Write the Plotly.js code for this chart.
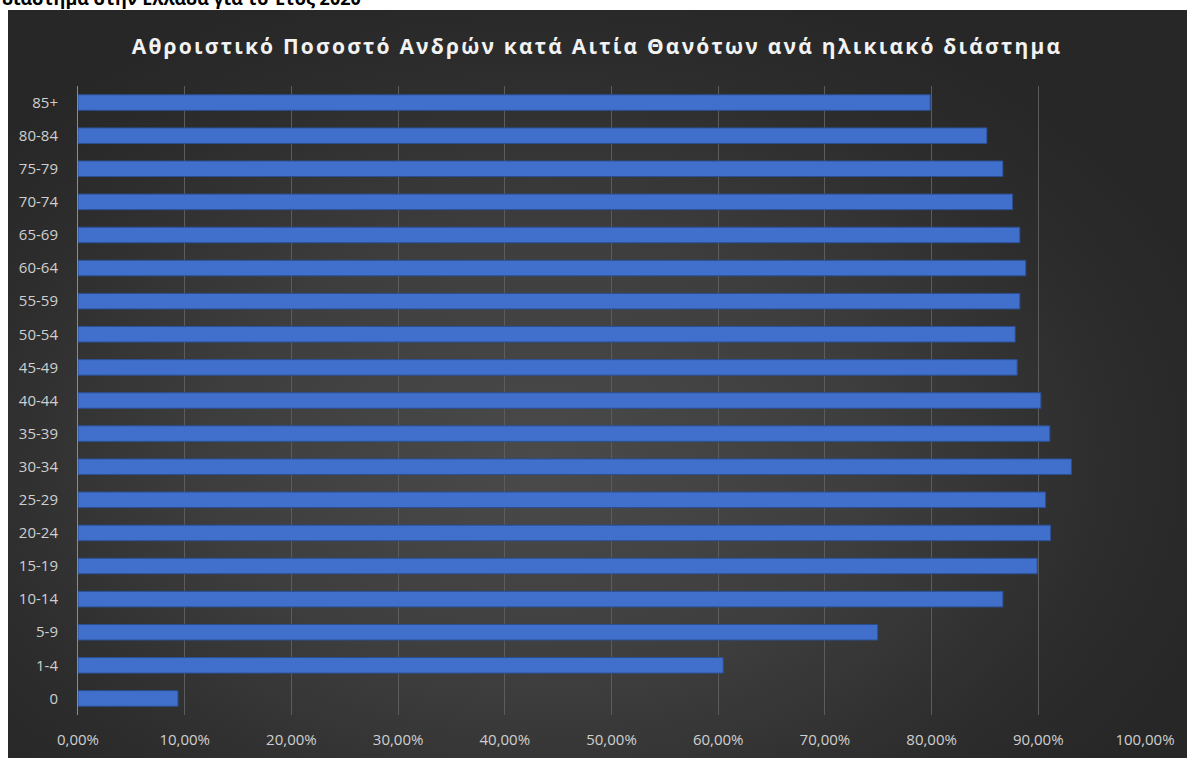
<!DOCTYPE html>
<html>
<head>
<meta charset="utf-8">
<script src="https://cdn.plot.ly/plotly-3.0.1.min.js"></script>
<style>
  html, body { margin: 0; padding: 0; background: #ffffff; overflow: hidden; }
  #bg {
    position: absolute; left: 8px; top: 10px; width: 1179px; height: 748px;
    background: radial-gradient(ellipse 60% 65% at 45% 60%, #4a4a4a 0%, #3e3e3e 45%, #2d2d2d 80%, #272727 100%);
  }
  #chart { position: absolute; left: 0; top: 0; width: 1187px; height: 758px; }
  .gtitle { letter-spacing: 2.2px; }
</style>
</head>
<body>
<div id="bg"></div>
<div id="chart"></div>
<script>
// Age groups (bottom to top)
const ageGroups = ["0", "1-4", "5-9", "10-14", "15-19", "20-24", "25-29", "30-34", "35-39",
                   "40-44", "45-49", "50-54", "55-59", "60-64", "65-69", "70-74", "75-79", "80-84", "85+"];
// Cumulative percentage (%)
const cumulativePct = [9.37, 60.47, 74.95, 86.68, 89.9, 91.15, 90.68, 93.11, 91.08,
                       90.24, 88.02, 87.83, 88.27, 88.83, 88.27, 87.59, 86.68, 85.18, 79.87];
const xTicks = [0, 10, 20, 30, 40, 50, 60, 70, 80, 90, 100];
const xTickLabels = ["0,00%", "10,00%", "20,00%", "30,00%", "40,00%", "50,00%",
                     "60,00%", "70,00%", "80,00%", "90,00%", "100,00%"];
const chartTitle = "Αθροιστικό Ποσοστό Ανδρών κατά Αιτία Θανότων ανά ηλικιακό διάστημα";
const cutText = "διάστημα στην Ελλάδα για το Έτος 2020";

const trace = {
  type: "bar",
  orientation: "h",
  y: ageGroups,
  x: cumulativePct,
  marker: { color: "#4070cb", line: { color: "#2b4f94", width: 1 } },
  hoverinfo: "y+x"
};

const layout = {
  width: 1187,
  height: 758,
  paper_bgcolor: "rgba(0,0,0,0)",
  plot_bgcolor: "rgba(0,0,0,0)",
  separators: ",.",
  margin: { l: 78, r: 42, t: 86, b: 43 },
  bargap: 0.53,
  showlegend: false,
  title: {
    text: chartTitle,
    font: { family: "Open Sans, Noto Sans, sans-serif", size: 21, color: "#f2f2f2", weight: "bold" },
    x: 0.503, xanchor: "center",
    y: 0.939, yanchor: "middle", yref: "container"
  },
  xaxis: {
    range: [0, 100],
    tickvals: xTicks,
    ticktext: xTickLabels,
    showgrid: true,
    gridcolor: "#5c5c5c",
    gridwidth: 1,
    zeroline: false,
    showline: false,
    ticks: "",
    ticklen: 0,
    ticklabelstandoff: 14,
    tickfont: { family: "Open Sans, Noto Sans, sans-serif", size: 15, color: "#cfcfcf" },
    fixedrange: true
  },
  yaxis: {
    type: "category",
    categoryorder: "array",
    categoryarray: ageGroups,
    showgrid: false,
    zeroline: false,
    showline: true,
    linecolor: "#8c8c8c",
    linewidth: 1,
    ticks: "",
    ticklabelstandoff: 16,
    tickfont: { family: "Open Sans, Noto Sans, sans-serif", size: 15, color: "#cfcfcf" },
    fixedrange: true
  },
  annotations: [{
    text: "<b>" + cutText + "</b>",
    xref: "paper", yref: "paper",
    x: 0, y: 1,
    xanchor: "left", yanchor: "bottom",
    xshift: -78, yshift: 74,
    showarrow: false,
    font: { family: "Open Sans, Noto Sans, sans-serif", size: 18, color: "#000000" }
  }]
};

Plotly.newPlot("chart", [trace], layout, { displayModeBar: false });
</script>
</body>
</html>
